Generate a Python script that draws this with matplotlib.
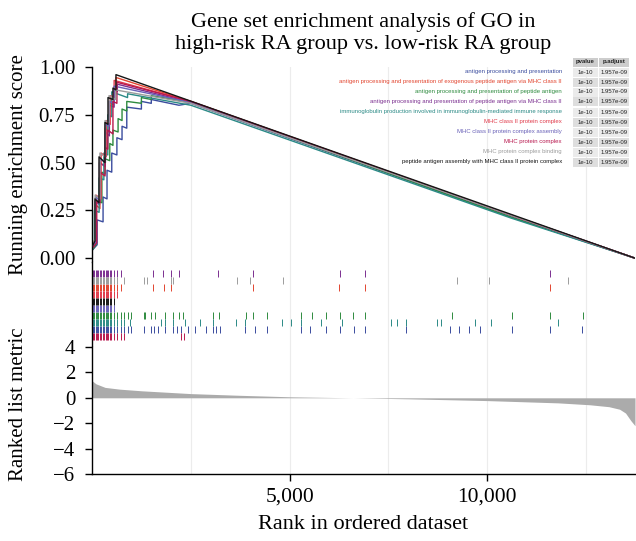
import matplotlib
matplotlib.use("Agg")
import matplotlib.pyplot as plt
import numpy as np

plt.rcParams['font.family'] = ['Liberation Serif', 'DejaVu Serif']

# gene sets (legend order) with colours
set_names = [
    "antigen processing and presentation",
    "antigen processing and presentation of exogenous peptide antigen via MHC class II",
    "antigen processing and presentation of peptide antigen",
    "antigen processing and presentation of peptide antigen via MHC class II",
    "immunoglobulin production involved in immunoglobulin-mediated immune response",
    "MHC class II protein complex",
    "MHC class II protein complex assembly",
    "MHC protein complex",
    "MHC protein complex binding",
    "peptide antigen assembly with MHC class II protein complex",
]
set_colors = ["#3a4c9e", "#e2452f", "#2e8b3f", "#7b2f90", "#2b8a86",
              "#e03a4a", "#6a62b8", "#b8184e", "#9c9c9c", "#161616"]
pvalues = ["1e-10"] * 10
padjust = ["1.957e-09"] * 10

n_genes = 13740

# running enrichment score (rank, ES)
es_rank = [
    [0, 130, 130, 280, 280, 380, 380, 500, 500, 630, 630, 760, 760, 880, 880, 1250, 1250, 1500, 1500, 2200, 2500, 10600, 13740],
    [0, 90, 90, 200, 200, 330, 330, 430, 430, 540, 540, 610, 610, 2500, 10600, 13740],
    [0, 100, 100, 250, 250, 330, 330, 450, 450, 530, 530, 660, 660, 760, 760, 880, 880, 1250, 1250, 1500, 1500, 2500, 10600, 13740],
    [0, 80, 80, 190, 190, 330, 330, 440, 440, 560, 560, 640, 640, 2500, 10600, 13740],
    [0, 60, 60, 180, 180, 300, 300, 400, 400, 500, 500, 900, 900, 2500, 10600, 13740],
    [0, 100, 100, 230, 230, 360, 360, 460, 460, 560, 560, 2500, 10600, 13740],
    [0, 90, 90, 200, 200, 340, 340, 430, 430, 560, 560, 2500, 10600, 13740],
    [0, 120, 120, 200, 200, 330, 330, 400, 400, 530, 530, 630, 630, 2500, 10600, 13740],
    [0, 80, 80, 200, 200, 330, 330, 430, 430, 600, 600, 2500, 10600, 13740],
    [0, 76, 76, 177, 177, 328, 328, 404, 404, 530, 530, 606, 606, 13740],
]
es_value = [
    [0.04, 0.07, 0.20, 0.19, 0.32, 0.31, 0.46, 0.45, 0.55, 0.54, 0.63, 0.62, 0.69, 0.68, 0.79, 0.78, 0.82, 0.81, 0.83, 0.80, 0.81, 0.215, 0.0],
    [0.07, 0.10, 0.28, 0.26, 0.50, 0.48, 0.68, 0.66, 0.82, 0.80, 0.87, 0.86, 0.945, 0.82, 0.225, 0.0],
    [0.04, 0.07, 0.30, 0.29, 0.45, 0.44, 0.52, 0.51, 0.60, 0.59, 0.67, 0.66, 0.73, 0.72, 0.78, 0.77, 0.82, 0.81, 0.84, 0.83, 0.85, 0.815, 0.215, 0.0],
    [0.06, 0.09, 0.30, 0.28, 0.50, 0.48, 0.66, 0.64, 0.80, 0.79, 0.88, 0.87, 0.91, 0.815, 0.225, 0.0],
    [0.04, 0.07, 0.25, 0.24, 0.42, 0.41, 0.55, 0.54, 0.75, 0.74, 0.87, 0.84, 0.86, 0.80, 0.21, 0.0],
    [0.07, 0.10, 0.33, 0.31, 0.55, 0.53, 0.72, 0.70, 0.85, 0.84, 0.93, 0.82, 0.225, 0.0],
    [0.05, 0.08, 0.32, 0.30, 0.52, 0.50, 0.70, 0.69, 0.82, 0.81, 0.90, 0.815, 0.225, 0.0],
    [0.05, 0.08, 0.30, 0.29, 0.45, 0.43, 0.58, 0.57, 0.67, 0.65, 0.82, 0.81, 0.92, 0.82, 0.225, 0.0],
    [0.07, 0.10, 0.33, 0.31, 0.55, 0.53, 0.72, 0.71, 0.85, 0.83, 0.88, 0.81, 0.225, 0.0],
    [0.06, 0.09, 0.31, 0.29, 0.53, 0.50, 0.71, 0.70, 0.84, 0.83, 0.89, 0.88, 0.96, 0.0],
]

# hit positions (ranks) for the rug, one row per gene set
early = [20, 55, 90, 127, 160, 198, 235, 270, 305, 342, 380, 413, 450, 485, 548]
hits = [
    early + [637, 727, 816, 906, 995, 1309, 1488, 1577, 1667, 1846, 2043, 2159, 2249, 2428, 2607, 2876, 3055, 3144, 3234, 3860, 4129, 4425, 5293, 5517, 5920, 6278, 6636, 6905, 7935, 9054, 9278, 9546, 9815, 10621, 11588, 12394],
    early + [637, 727, 1550, 1819, 2007, 4084, 6260, 6905, 11579],
    early + [637, 727, 816, 906, 995, 1309, 1353, 1488, 1595, 1846, 2043, 2204, 2294, 3055, 3207, 3905, 4084, 4425, 5293, 5562, 5920, 6278, 6592, 6905, 9099, 10621, 11588, 12412],
    early + [637, 727, 1533, 1801, 2007, 2204, 3189, 4084, 6278, 6905, 11579],
    early + [637, 727, 816, 951, 1756, 1846, 2043, 2356, 2741, 3055, 3637, 3860, 4801, 5024, 5293, 5786, 6323, 7577, 7711, 7935, 8741, 8830, 9681, 10084, 11785],
    early + [637],
    early,
    early + [637, 727, 816, 2249, 2338],
    early + [637, 816, 1309, 1398, 2007, 2043, 3681, 3995, 4845, 9233, 10039, 12053],
    early,
]
# rug row of each gene set, top to bottom
rug_row = [8, 2, 6, 0, 7, 3, 5, 9, 1, 4]

# ranked list metric
metric_rank = [0, 100, 330, 700, 1260, 2500, 3700, 5000, 6600, 8000, 10000, 11800, 12600, 13080, 13350, 13500, 13635, 13740]
metric_value = [1.35, 1.1, 0.82, 0.68, 0.55, 0.33, 0.2, 0.08, 0.0, -0.08, -0.22, -0.4, -0.55, -0.7, -0.9, -1.2, -1.8, -2.2]

grid_x = [2500, 5000, 7500, 10000, 12500]

W, H = 636, 541
fig = plt.figure(figsize=(W / 100, H / 100), dpi=100)
left, right = 92 / W, 635 / W


def box(top, bottom):
    return [left, 1 - bottom / H, right - left, (bottom - top) / H]


ax_es = fig.add_axes(box(67, 262))
ax_rug = fig.add_axes(box(262, 347))
ax_m = fig.add_axes(box(347, 474))

tick_fs = 15
for ax in (ax_es, ax_rug, ax_m):
    ax.set_xlim(0, n_genes)
    for g in grid_x:
        ax.axvline(g, color="#ececec", lw=0.8, zorder=0)
    for s in ("top", "right"):
        ax.spines[s].set_visible(False)
    ax.spines["left"].set_linewidth(1.0)
    ax.tick_params(axis="y", labelsize=tick_fs, length=5, width=1.0, pad=7)

# ES panel
for i in range(10):
    ax_es.plot(es_rank[i], es_value[i], color=set_colors[i], lw=1.0, zorder=2 + (i == 9))
ax_es.set_ylim(-0.02, 1.0)
ax_es.set_yticks([0, 0.25, 0.5, 0.75, 1.0])
ax_es.set_yticklabels(["0.00", "0.25", "0.50", "0.75", "1.00"])
ax_es.spines["bottom"].set_visible(False)
ax_es.set_xticks([])
ax_es.set_ylabel("Running enrichment score", fontsize=tick_fs)
ax_es.yaxis.set_label_coords(-0.118, 0.5)
ax_es.set_title("Gene set enrichment analysis of GO in\nhigh-risk RA group vs. low-risk RA group",
                fontsize=16, linespacing=1.2, pad=13)

# rug panel
ax_rug.set_ylim(85, 0)
for i in range(10):
    top = 8 + 7 * rug_row[i]
    ax_rug.vlines(hits[i], top, top + 6.5, color=set_colors[i], lw=0.7)
ax_rug.spines["bottom"].set_visible(False)
ax_rug.set_xticks([])
ax_rug.set_yticks([])

# ranked metric panel
ax_m.fill_between(metric_rank, metric_value, 0, color="#ababab", lw=0)
ax_m.set_ylim(-6, 4)
ax_m.set_yticks([-6, -4, -2, 0, 2, 4])
ax_m.set_yticklabels(["\u22126", "\u22124", "\u22122", "0", "2", "4"])
ax_m.set_xticks([5000, 10000])
ax_m.set_xticklabels(["5,000", "10,000"])
ax_m.tick_params(axis="x", labelsize=15.5, length=5, width=1.0, pad=5)
ax_m.spines["bottom"].set_linewidth(1.0)
ax_m.set_ylabel("Ranked list metric", fontsize=tick_fs)
ax_m.yaxis.set_label_coords(-0.118, 0.55)
ax_m.set_xlabel("Rank in ordered dataset", fontsize=16, labelpad=6)

# legend table (pixel positions converted to figure coords)
def fx(px):
    return px / W


def fy(py):
    return 1 - py / H


lab_fs = 4.3
col1 = (573, 598)
col2 = (599, 629)
row0 = 62
dy = 10
sans = ["Liberation Sans", "DejaVu Sans"]
for (a, b), txt in ((col1, "pvalue"), (col2, "p.adjust")):
    fig.patches.append(plt.Rectangle((fx(a), fy(row0 + 4.5)), fx(b - a), 9 / H,
                                     transform=fig.transFigure, color="#cdcdcd", lw=0))
    fig.text(fx((a + b) / 2), fy(row0), txt, fontsize=lab_fs, ha="center", va="center",
             family=sans, fontweight="bold", color="#222222")
for i in range(10):
    y = row0 + dy * (i + 1)
    bg = "#ebebeb" if i % 2 == 0 else "#dedede"
    fig.text(fx(562), fy(y), set_names[i], fontsize=lab_fs, ha="right", va="center",
             color=set_colors[i], family=sans)
    for (a, b), txt in ((col1, pvalues[i]), (col2, padjust[i])):
        fig.patches.append(plt.Rectangle((fx(a), fy(y + 4.5)), fx(b - a), 9 / H,
                                         transform=fig.transFigure, color=bg, lw=0))
        fig.text(fx((a + b) / 2), fy(y), txt, fontsize=lab_fs, ha="center", va="center",
                 color="#222222", family=sans)

fig.savefig("out.png", dpi=100)
